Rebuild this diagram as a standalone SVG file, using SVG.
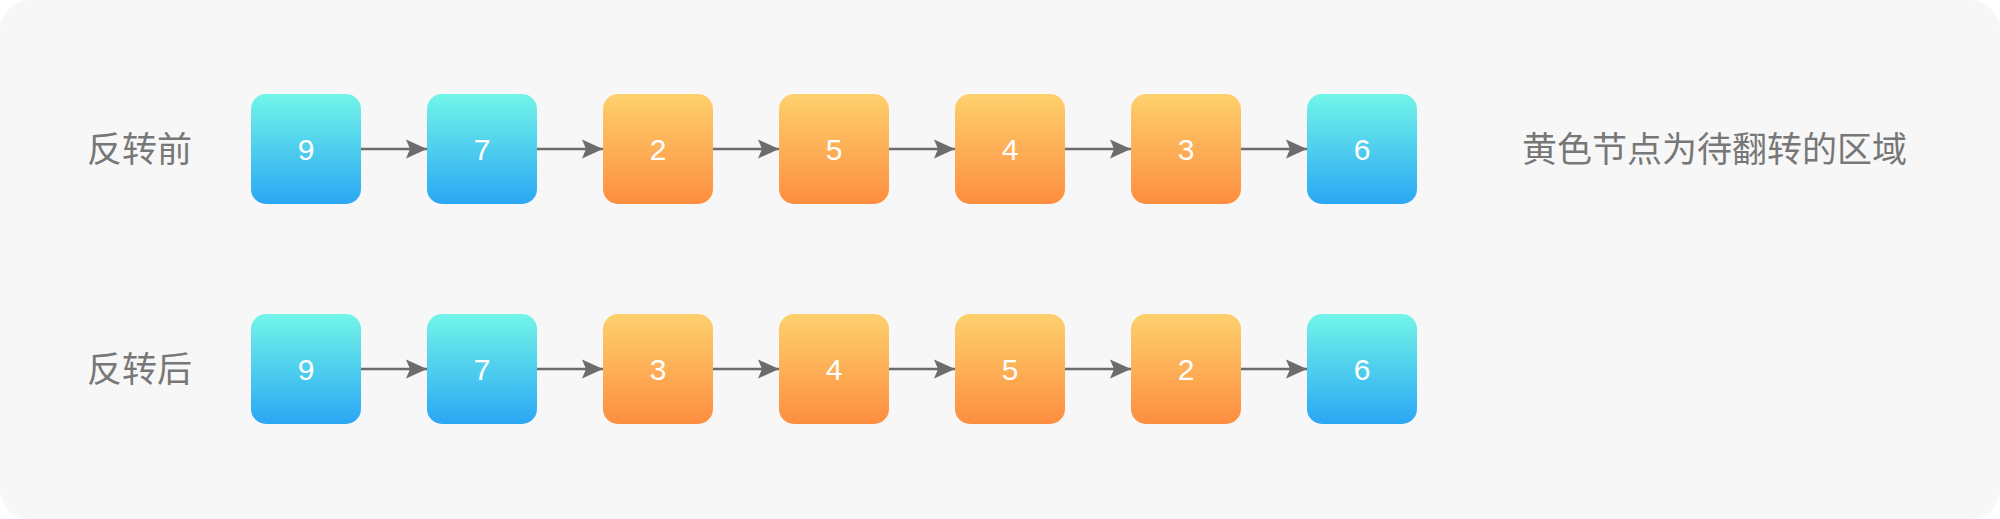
<svg xmlns="http://www.w3.org/2000/svg" width="2000" height="519" viewBox="0 0 2000 519">
<defs>
<linearGradient id="gBlue" x1="0" y1="0" x2="0" y2="1">
<stop offset="0" stop-color="#72f5e8"/>
<stop offset="1" stop-color="#2ba7f4"/>
</linearGradient>
<linearGradient id="gOrange" x1="0" y1="0" x2="0" y2="1">
<stop offset="0" stop-color="#fed06e"/>
<stop offset="1" stop-color="#fd8e3f"/>
</linearGradient>
<marker id="arrow" markerUnits="userSpaceOnUse" markerWidth="24" markerHeight="22" refX="21" refY="11" orient="auto">
<path d="M0,1.5 L21,11 L0,20.5 L4,11 Z" fill="#6c6c6c"/>
</marker>
<style>
.blue{fill:url(#gBlue)}
.orange{fill:url(#gOrange)}
.num{font-family:"Liberation Sans",Arial,sans-serif;font-size:30px;fill:#ffffff;text-anchor:middle}
.lbl{font-family:"Noto Sans CJK SC","Noto Sans",sans-serif;font-size:35px;fill:#777777}
.conn{stroke:#6c6c6c;stroke-width:2.4;fill:none;marker-end:url(#arrow)}
</style>
</defs>
<rect x="0" y="0" width="2000" height="519" fill="#ffffff"/>
<rect x="0" y="0" width="2000" height="519" rx="30" ry="30" fill="#f7f7f7"/>

<g id="labels">
<text class="lbl" x="87" y="162">反转前</text>
<text class="lbl" x="87" y="382">反转后</text>
<text class="lbl" x="1522" y="162">黄色节点为待翻转的区域</text>
</g>

<g id="connectors">
<line class="conn" x1="361" y1="149" x2="427" y2="149"/>
<line class="conn" x1="537" y1="149" x2="603" y2="149"/>
<line class="conn" x1="713" y1="149" x2="779" y2="149"/>
<line class="conn" x1="889" y1="149" x2="955" y2="149"/>
<line class="conn" x1="1065" y1="149" x2="1131" y2="149"/>
<line class="conn" x1="1241" y1="149" x2="1307" y2="149"/>
<line class="conn" x1="361" y1="369" x2="427" y2="369"/>
<line class="conn" x1="537" y1="369" x2="603" y2="369"/>
<line class="conn" x1="713" y1="369" x2="779" y2="369"/>
<line class="conn" x1="889" y1="369" x2="955" y2="369"/>
<line class="conn" x1="1065" y1="369" x2="1131" y2="369"/>
<line class="conn" x1="1241" y1="369" x2="1307" y2="369"/>
</g>

<g id="r1n1"><rect class="blue" x="251" y="94" width="110" height="110" rx="15"/><text class="num" x="306" y="160">9</text></g>
<g id="r1n2"><rect class="blue" x="427" y="94" width="110" height="110" rx="15"/><text class="num" x="482" y="160">7</text></g>
<g id="r1n3"><rect class="orange" x="603" y="94" width="110" height="110" rx="15"/><text class="num" x="658" y="160">2</text></g>
<g id="r1n4"><rect class="orange" x="779" y="94" width="110" height="110" rx="15"/><text class="num" x="834" y="160">5</text></g>
<g id="r1n5"><rect class="orange" x="955" y="94" width="110" height="110" rx="15"/><text class="num" x="1010" y="160">4</text></g>
<g id="r1n6"><rect class="orange" x="1131" y="94" width="110" height="110" rx="15"/><text class="num" x="1186" y="160">3</text></g>
<g id="r1n7"><rect class="blue" x="1307" y="94" width="110" height="110" rx="15"/><text class="num" x="1362" y="160">6</text></g>

<g id="r2n1"><rect class="blue" x="251" y="314" width="110" height="110" rx="15"/><text class="num" x="306" y="380">9</text></g>
<g id="r2n2"><rect class="blue" x="427" y="314" width="110" height="110" rx="15"/><text class="num" x="482" y="380">7</text></g>
<g id="r2n3"><rect class="orange" x="603" y="314" width="110" height="110" rx="15"/><text class="num" x="658" y="380">3</text></g>
<g id="r2n4"><rect class="orange" x="779" y="314" width="110" height="110" rx="15"/><text class="num" x="834" y="380">4</text></g>
<g id="r2n5"><rect class="orange" x="955" y="314" width="110" height="110" rx="15"/><text class="num" x="1010" y="380">5</text></g>
<g id="r2n6"><rect class="orange" x="1131" y="314" width="110" height="110" rx="15"/><text class="num" x="1186" y="380">2</text></g>
<g id="r2n7"><rect class="blue" x="1307" y="314" width="110" height="110" rx="15"/><text class="num" x="1362" y="380">6</text></g>
</svg>
